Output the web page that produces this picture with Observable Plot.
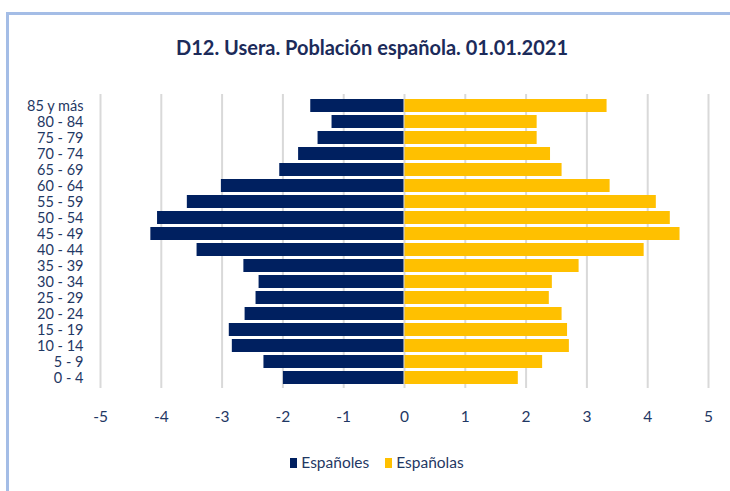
<!DOCTYPE html>
<html>
<head>
<meta charset="utf-8">
<script src="https://cdn.jsdelivr.net/npm/d3@7"></script>
<script src="https://cdn.jsdelivr.net/npm/@observablehq/plot@0.6"></script>
<style>
  body { margin: 0; background: #fff; }
  #wrap { position: relative; width: 730px; height: 491px; overflow: hidden; background: #fff;
          font-family: Lato, "Open Sans", sans-serif; color: #1F3864; }
  #frame { position: absolute; left: 6px; top: 12px; width: 760px; height: 520px;
           border: 3px solid #a4bde6; box-sizing: border-box; }
  #title { position: absolute; top: 35px; left: 0; width: 744px; text-align: center;
           font-weight: bold; font-size: 20px; color: #1c2b5a; }
  #chart { position: absolute; left: 0; top: 80px; }
  #legend { position: absolute; top: 453px; left: 0; width: 754px; text-align: center; font-size: 15.5px; }
  .sw { display: inline-block; width: 7px; height: 10px; margin-right: 4px; vertical-align: 0px; }
  .item { margin: 0 8px; }
</style>
</head>
<body>
<div id="wrap">
  <div id="frame"></div>
  <div id="title">D12. Usera. Población española. 01.01.2021</div>
  <div id="chart"></div>
  <div id="legend"></div>
</div>
<script>
const ages = ["0 - 4","5 - 9","10 - 14","15 - 19","20 - 24","25 - 29","30 - 34","35 - 39","40 - 44",
              "45 - 49","50 - 54","55 - 59","60 - 64","65 - 69","70 - 74","75 - 79","80 - 84","85 y más"];
const espanoles = [2.00, 2.32, 2.84, 2.89, 2.63, 2.45, 2.40, 2.65, 3.42,
                   4.18, 4.07, 3.58, 3.02, 2.06, 1.75, 1.43, 1.20, 1.55];
const espanolas = [1.88, 2.28, 2.72, 2.69, 2.60, 2.39, 2.44, 2.88, 3.95,
                   4.54, 4.38, 4.15, 3.39, 2.60, 2.41, 2.19, 2.19, 3.34];
const xTicks = [-5,-4,-3,-2,-1,0,1,2,3,4,5];
const seriesNames = ["Españoles", "Españolas"];
const seriesColors = ["#002060", "#FFC000"];

const rows = [];
ages.forEach((a, i) => {
  rows.push({age: a, sex: seriesNames[0], v: -espanoles[i]});
  rows.push({age: a, sex: seriesNames[1], v: espanolas[i]});
});

const chart = Plot.plot({
  width: 730,
  height: 350,
  marginLeft: 100,
  marginRight: 22,
  marginTop: 14,
  marginBottom: 42,
  style: { fontFamily: "Lato, 'Open Sans', sans-serif", fontSize: "15.5px", color: "#1F3864", background: "transparent" },
  x: { domain: [-5, 5], ticks: xTicks, tickFormat: d => String(d), label: null },
  y: { domain: ages.slice().reverse(), paddingInner: 0.2, paddingOuter: 0.1, label: null },
  color: { domain: seriesNames, range: seriesColors },
  marks: [
    Plot.gridX(xTicks, { stroke: "#d9d9d9", strokeWidth: 2, strokeOpacity: 1 }),
    Plot.barX(rows, { y: "age", x1: 0, x2: "v", fill: "sex", insetLeft: 0.5, insetRight: 0.5 }),
    Plot.axisX(xTicks, { tickSize: 0, tickPadding: 22, tickFormat: d => String(d), fill: "#1F3864", fontSize: 15.5 }),
    Plot.axisY({ tickSize: 0, tickPadding: 17, fill: "#1F3864", fontSize: 14.5 })
  ]
});
document.getElementById("chart").appendChild(chart);

const legend = document.getElementById("legend");
seriesNames.forEach((n, i) => {
  const s = document.createElement("span");
  s.className = "item";
  s.innerHTML = `<span class="sw" style="background:${seriesColors[i]}"></span>${n}`;
  legend.appendChild(s);
});
</script>
</body>
</html>
